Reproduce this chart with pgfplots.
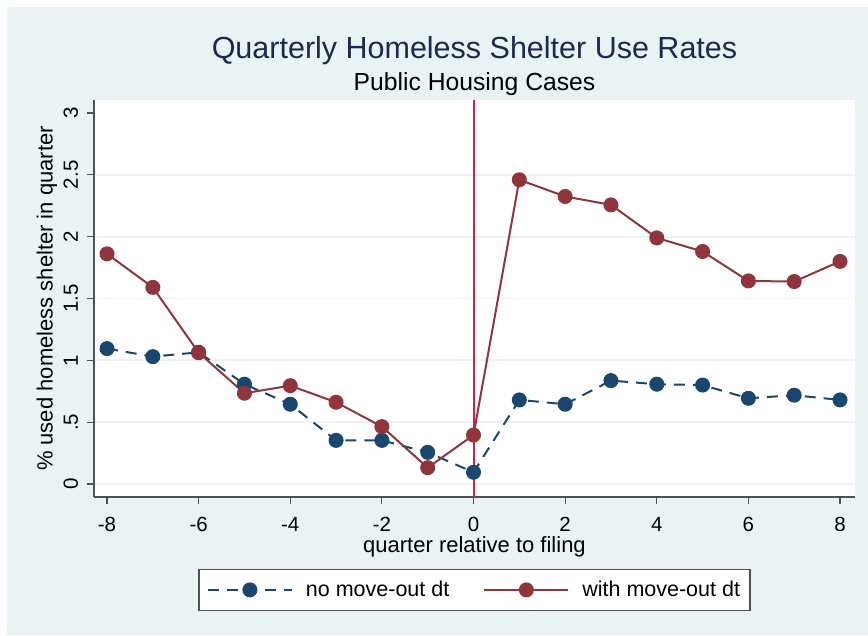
\documentclass[border=0pt]{standalone}
\usepackage{pgfplots}
\pgfplotsset{compat=1.18}
\usetikzlibrary{calc}
\usepackage{fontspec}
\setmainfont{Liberation Sans}
\definecolor{bgc}{RGB}{234,242,243}
\definecolor{gridc}{RGB}{234,242,243}
\definecolor{navyc}{RGB}{26,71,111}
\definecolor{maroonc}{RGB}{144,53,59}
\definecolor{vlinec}{RGB}{210,30,70}
\definecolor{titlec}{RGB}{30,40,80}
\definecolor{axc}{RGB}{80,80,80}
\pagecolor{bgc}
\begin{document}
\begin{tikzpicture}
\begin{axis}[
  width=761pt, height=397pt, scale only axis,
  xmin=-8.284, xmax=8.327, ymin=-0.105, ymax=3.105,
  axis background/.style={fill=white},
  axis x line*=bottom, axis y line*=left,
  axis line style={draw=axc, line width=1.2pt},
  tick align=outside, major tick length=7pt,
  tick style={draw=axc, line width=1.2pt},
  xtick={-8,-6,-4,-2,0,2,4,6,8},
  xticklabels={-8,-6,-4,-2,0,2,4,6,8},
  ytick={0,0.5,1,1.5,2,2.5},
  yticklabels={0,.5,1,1.5,2,2.5},
  extra y ticks={3}, extra y tick labels={3},
  extra y tick style={grid=none},
  ymajorgrids, grid style={draw=gridc, line width=1.8pt},
  ticklabel style={font=\fontsize{20.5}{24}\selectfont, text=black},
  /pgf/number format/assume math mode=true,
  xticklabel style={anchor=base},
  xticklabel shift=27pt,
  yticklabel style={rotate=90, anchor=base},
  yticklabel shift=9pt,
  xlabel={quarter relative to filing},
  xlabel style={at={(axis description cs:0.5,-0.141)}, anchor=base, font=\fontsize{22}{26}\selectfont},
  ylabel={\% used homeless shelter in quarter},
  ylabel style={at={(axis description cs:-0.0545,0.5)}, anchor=base, font=\fontsize{22}{26}\selectfont},
  legend columns=2,
  legend style={at={(0.5,-0.234)}, anchor=center, draw=axc, line width=1.2pt, fill=white,
    font=\fontsize{21.5}{26}\selectfont, inner xsep=8pt, inner ysep=10pt,
    /tikz/every odd column/.append style={column sep=11pt},
    /tikz/every even column/.append style={column sep=32pt}},
  legend image code/.code={\draw[mark repeat=2,mark phase=2] plot coordinates {(0pt,0pt) (42pt,0pt) (84pt,0pt)};},
]
\addplot[draw={rgb,255:red,210;green,30;blue,70}, mark=none, line width=2pt, forget plot] coordinates {(0,-0.105) (0,3.105)};
\addplot[navyc, line width=2pt, dash pattern=on 11pt off 8pt, mark=*, mark size=6.5pt,
  mark options={solid, fill=navyc, draw=navyc}] coordinates {
(-8,1.095) (-7,1.030) (-6,1.065) (-5,0.807) (-4,0.645) (-3,0.353) (-2,0.353) (-1,0.256) (0,0.095)
(1,0.680) (2,0.645) (3,0.836) (4,0.807) (5,0.800) (6,0.693) (7,0.718) (8,0.680)};
\addlegendentry{no move-out dt}
\addplot[maroonc, line width=2pt, mark=*, mark size=6.5pt,
  mark options={solid, fill=maroonc, draw=maroonc}] coordinates {
(-8,1.861) (-7,1.590) (-6,1.062) (-5,0.734) (-4,0.795) (-3,0.661) (-2,0.464) (-1,0.132) (0,0.396)
(1,2.460) (2,2.325) (3,2.257) (4,1.990) (5,1.880) (6,1.642) (7,1.637) (8,1.800)};
\addlegendentry{with move-out dt\hspace{5pt}}
\coordinate (bl) at (rel axis cs:0,0);
\end{axis}
\coordinate (O) at ($(bl)+(-94pt,-138pt)$);
\pgfresetboundingbox
\path[use as bounding box] (O) rectangle ($(O)+(868pt,635pt)$);
\fill[white] (O) rectangle ($(O)+(7pt,635pt)$);
\fill[white] ($(O)+(0pt,628pt)$) rectangle ($(O)+(868pt,635pt)$);
\node[anchor=base, text=titlec, font=\fontsize{30.5}{36}\selectfont] at ($(O)+(474.5pt,576.7pt)$) {Quarterly Homeless Shelter Use Rates};
\node[anchor=base, text=black, font=\fontsize{24.7}{29}\selectfont] at ($(O)+(474.5pt,544.3pt)$) {Public Housing Cases};
\end{tikzpicture}
\end{document}
